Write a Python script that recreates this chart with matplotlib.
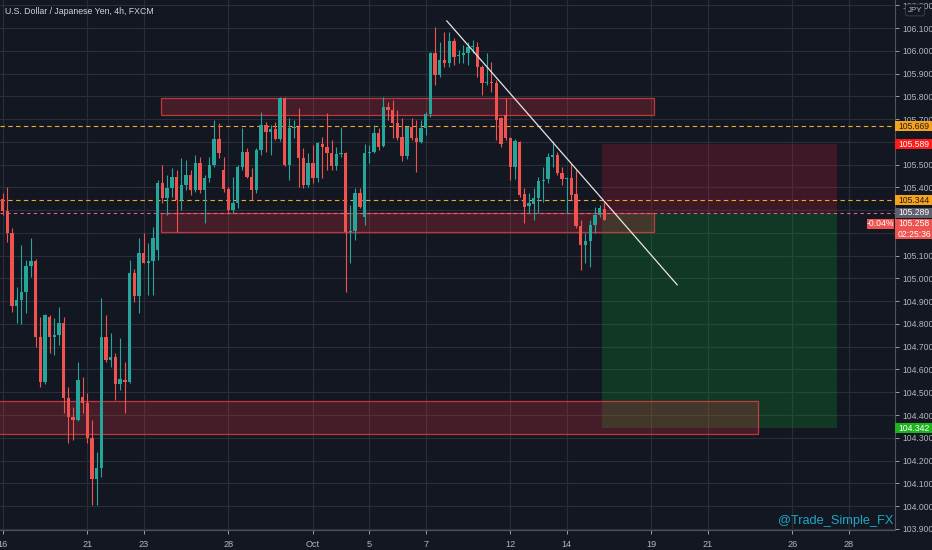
import numpy as np
import matplotlib.pyplot as plt
from matplotlib import font_manager
from matplotlib.patches import Rectangle

# USD/JPY 4h candles (bar 0 = Sep 16)
open_ = np.array([
    105.349, 105.296, 105.200, 104.879, 104.905, 104.941, 105.055, 105.077, 104.743, 104.545,
    104.831, 104.743, 104.752, 104.804, 104.475, 104.392, 104.378, 104.479, 104.453, 104.299,
    104.119, 104.168, 104.743, 104.642, 104.655, 104.536, 104.554, 104.545, 105.024, 104.923,
    105.112, 105.068, 105.077, 105.125, 105.419, 105.353, 105.397, 105.446, 105.345, 105.410,
    105.454, 105.389, 105.507, 105.389, 105.441, 105.498, 105.612, 105.476, 105.393, 105.301,
    105.331, 105.490, 105.555, 105.446, 105.389, 105.564, 105.674, 105.643, 105.656, 105.612,
    105.793, 105.498, 105.661, 105.665, 105.529, 105.410, 105.507, 105.441, 105.591, 105.577,
    105.551, 105.494, 105.547, 105.551, 105.204, 105.208, 105.375, 105.270, 105.551, 105.555,
    105.639, 105.582, 105.753, 105.740, 105.683, 105.621, 105.538, 105.665, 105.617, 105.599,
    105.661, 105.722, 105.990, 105.894, 105.959, 105.946, 106.043, 105.977, 105.981, 105.990,
    106.017, 106.017, 105.929, 105.858, 105.863, 105.858, 105.705, 105.718, 105.617, 105.490,
    105.599, 105.371, 105.318, 105.327, 105.353, 105.428, 105.437, 105.533, 105.542, 105.463,
    105.437, 105.441, 105.371, 105.230, 105.147, 105.165, 105.235, 105.279, 105.305])
high = np.array([
    105.375, 105.402, 105.222, 104.963, 105.147, 105.081, 105.178, 105.086, 104.831, 104.845,
    104.840, 104.826, 104.875, 104.831, 104.523, 104.436, 104.633, 104.567, 104.497, 104.378,
    104.238, 104.914, 104.840, 104.760, 104.673, 104.739, 104.633, 105.081, 105.042, 105.178,
    105.200, 105.156, 105.226, 105.432, 105.498, 105.454, 105.485, 105.476, 105.529, 105.520,
    105.476, 105.542, 105.533, 105.454, 105.533, 105.696, 105.683, 105.533, 105.402, 105.446,
    105.498, 105.661, 105.573, 105.485, 105.573, 105.731, 105.687, 105.674, 105.687, 105.797,
    105.797, 105.705, 105.696, 105.749, 105.573, 105.551, 105.586, 105.599, 105.621, 105.727,
    105.608, 105.577, 105.665, 105.555, 105.323, 105.397, 105.397, 105.591, 105.586, 105.674,
    105.661, 105.797, 105.775, 105.784, 105.740, 105.705, 105.670, 105.705, 105.696, 105.696,
    105.731, 105.995, 106.104, 106.039, 106.082, 106.082, 106.056, 106.003, 106.025, 106.039,
    106.047, 106.039, 105.938, 105.990, 105.951, 105.872, 105.709, 105.793, 105.621, 105.612,
    105.604, 105.397, 105.375, 105.397, 105.446, 105.490, 105.551, 105.604, 105.555, 105.490,
    105.446, 105.507, 105.476, 105.257, 105.200, 105.257, 105.314, 105.323, 105.336])
low = np.array([
    105.279, 105.160, 104.853, 104.804, 104.800, 104.848, 105.006, 104.699, 104.523, 104.535,
    104.673, 104.664, 104.708, 104.409, 104.277, 104.291, 104.375, 104.409, 104.277, 104.005,
    104.005, 104.128, 104.633, 104.611, 104.466, 104.510, 104.409, 104.541, 104.897, 104.848,
    105.066, 104.927, 104.927, 105.081, 105.331, 105.279, 105.358, 105.204, 105.301, 105.389,
    105.367, 105.380, 105.375, 105.244, 105.424, 105.490, 105.529, 105.380, 105.288, 105.288,
    105.309, 105.476, 105.441, 105.345, 105.375, 105.542, 105.555, 105.542, 105.608, 105.604,
    105.494, 105.432, 105.617, 105.402, 105.397, 105.402, 105.419, 105.424, 105.441, 105.476,
    105.476, 105.476, 105.533, 104.941, 105.068, 105.169, 105.309, 105.235, 105.507, 105.551,
    105.564, 105.577, 105.696, 105.617, 105.608, 105.516, 105.525, 105.608, 105.468, 105.595,
    105.630, 105.709, 105.850, 105.885, 105.929, 105.929, 105.938, 105.946, 105.946, 105.938,
    105.990, 105.885, 105.806, 105.850, 105.819, 105.608, 105.577, 105.608, 105.432, 105.437,
    105.358, 105.244, 105.288, 105.257, 105.288, 105.336, 105.419, 105.490, 105.454, 105.410,
    105.288, 105.345, 105.222, 105.037, 105.068, 105.050, 105.200, 105.270, 105.257])
close = np.array([
    105.296, 105.200, 104.879, 104.905, 104.941, 105.055, 105.077, 104.743, 104.545, 104.840,
    104.743, 104.752, 104.804, 104.475, 104.392, 104.378, 104.554, 104.453, 104.299, 104.119,
    104.168, 104.743, 104.642, 104.655, 104.536, 104.558, 104.545, 105.024, 104.923, 105.112,
    105.068, 105.077, 105.178, 105.419, 105.353, 105.397, 105.446, 105.345, 105.410, 105.454,
    105.389, 105.507, 105.389, 105.441, 105.498, 105.612, 105.551, 105.393, 105.301, 105.331,
    105.490, 105.555, 105.446, 105.389, 105.564, 105.674, 105.643, 105.656, 105.612, 105.793,
    105.498, 105.661, 105.665, 105.529, 105.410, 105.507, 105.441, 105.595, 105.577, 105.551,
    105.494, 105.547, 105.551, 105.204, 105.208, 105.375, 105.314, 105.551, 105.555, 105.639,
    105.577, 105.753, 105.740, 105.683, 105.617, 105.538, 105.665, 105.617, 105.599, 105.661,
    105.722, 105.990, 105.894, 105.959, 105.946, 106.043, 105.973, 105.981, 105.990, 106.017,
    106.021, 105.929, 105.858, 105.863, 105.858, 105.696, 105.591, 105.617, 105.490, 105.604,
    105.367, 105.314, 105.331, 105.353, 105.428, 105.432, 105.533, 105.542, 105.463, 105.437,
    105.441, 105.367, 105.230, 105.147, 105.165, 105.235, 105.279, 105.309, 105.258])

# time axis: bar index of each day label (6 bars per trading day)
day_bars = [0, 18, 30, 48, 66, 78, 90, 108, 120, 138, 150, 168, 180]
day_labels = ['16', '21', '23', '28', 'Oct', '5', '7', '12', '14', '19', '21', '26', '28']

# price ticks; the ones hidden behind labels on the chart are left blank
price_ticks = np.round(np.arange(103.9, 106.25, 0.1), 1)
hidden_ticks = [105.2, 105.3, 105.6]

# drawings: supply/demand zones (bar start, bar end, low, high)
zones = [(33.7, 138.6, 105.718, 105.793),
         (33.7, 138.6, 105.204, 105.288),
         (-2.0, 160.6, 104.317, 104.462)]
# short position tool
pos_x0, pos_x1 = 127.6, 177.6
entry, stop, target = 105.289, 105.589, 104.342
# horizontal lines
hlines = [105.669, 105.344]
# trend line (bar, price)
trend_x = [94.5, 143.5]
trend_y = [106.131, 104.972]

BG = '#131722'
UP, DOWN = '#26a69a', '#ef5350'
TXT = '#b2b5be'

names = {f.name for f in font_manager.fontManager.ttflist}
NARROW = 'Liberation Sans Narrow' if 'Liberation Sans Narrow' in names else 'Liberation Sans'
plt.rcParams['font.family'] = [NARROW, 'DejaVu Sans']

fig = plt.figure(figsize=(9.32, 5.5), dpi=100, facecolor=BG)
ax = fig.add_axes([0, 20 / 550, 895 / 932, 530 / 550])
ax.set_facecolor(BG)

# candles
bars = np.arange(len(close))
col = np.where(close >= open_, UP, DOWN)
ax.vlines(bars, low, high, colors=col, lw=0.8, zorder=4)
body_lo = np.minimum(open_, close)
body_h = np.maximum(np.abs(close - open_), 0.004)
ax.bar(bars, body_h, bottom=body_lo, width=0.72, color=col, lw=0, zorder=5)

# zones
for x0, x1, lo, hi in zones:
    ax.add_patch(Rectangle((x0, lo), x1 - x0, hi - lo, fc=(0.9, 0.2, 0.25, 0.24),
                           ec=(0.95, 0.25, 0.27, 0.75), lw=0.9, zorder=3))

# position tool
ax.add_patch(Rectangle((pos_x0, entry), pos_x1 - pos_x0, stop - entry,
                       fc='#d81e36', alpha=0.22, lw=0, zorder=2))
ax.add_patch(Rectangle((pos_x0, target), pos_x1 - pos_x0, entry - target,
                       fc='#0d9c2a', alpha=0.25, lw=0, zorder=2))

for lvl in hlines:
    ax.axhline(lvl, color='#f5a623', ls=(0, (4, 3)), lw=0.8, zorder=3)
ax.axhline(entry, color='#d9667f', ls=(0, (3, 3)), lw=0.8, zorder=3)

ax.plot(trend_x, trend_y, color='#e6e6e6', lw=0.9, zorder=6)

# axes / grid
ylo, yhi = 103.895, 106.223
ax.set_xlim(-0.57, 189.85)
ax.set_ylim(ylo, yhi)
ax.set_xticks(day_bars)
ax.set_xticklabels(day_labels)
ax.set_yticks(price_ticks)
ax.set_yticklabels(['' if t in hidden_ticks else f'{t:.3f}' for t in price_ticks])
ax.yaxis.tick_right()
ax.tick_params(colors=TXT, labelsize=6.2, length=3, width=0.6, pad=2)
ax.tick_params(axis='x', labelsize=6.6, pad=4)
ax.grid(True, color='#2a2e39', lw=0.8, zorder=0)
ax.set_axisbelow(True)
for s in ['top', 'left']:
    ax.spines[s].set_visible(False)
for s in ['right', 'bottom']:
    ax.spines[s].set_color('#50535e')
    ax.spines[s].set_linewidth(0.8)

# price axis labels: fixed-size boxes on the scale
px = 530 / (yhi - ylo)          # pixels per yen
ytr = ax.get_yaxis_transform()
def axis_box(text, p, fc, tc, shift=0, x0=1.0005, w=37 / 895):
    c = p - shift / px
    ax.add_patch(Rectangle((x0, c - 5 / px), w, 10 / px, transform=ytr, fc=fc,
                           ec='none', clip_on=False, zorder=9))
    ax.text(x0 + w / 2, c, text, transform=ytr, ha='center', va='center',
            fontsize=6.2, color=tc, zorder=10, clip_on=False)

axis_box('105.669', 105.669, '#f7a21b', '#1e1e1e')
axis_box(f'{stop:.3f}', stop, '#ff1a1a', 'white')
axis_box('105.344', 105.344, '#f7a21b', '#1e1e1e')
axis_box(f'{entry:.3f}', entry, '#5d606b', 'white')
axis_box(f'{close[-1]:.3f}', close[-1], '#ef5350', 'white', shift=4)
axis_box('02:25:36', close[-1], '#ef5350', 'white', shift=14.5)
axis_box(f'{target:.3f}', target, '#1db51d', 'white')
axis_box('-0.04%', close[-1], '#ef5350', 'white', shift=4,
         x0=867 / 895, w=27 / 895)

fig.text(915 / 932, 1 - 10 / 550, 'JPY', ha='center', va='center', fontsize=5.8,
         color=TXT, bbox=dict(boxstyle='round,pad=0.3', fc=BG, ec='#434651', lw=0.6))
fig.text(5 / 932, 1 - 11 / 550, 'U.S. Dollar / Japanese Yen, 4h, FXCM',
         ha='left', va='center', fontsize=6.3, color='#d1d4dc')
fig.text(893 / 932, 1 - 521 / 550, '@Trade_Simple_FX', ha='right', va='center',
         fontsize=9.2, color='#22a7c4')

fig.savefig('out.png', dpi=100, facecolor=BG)
